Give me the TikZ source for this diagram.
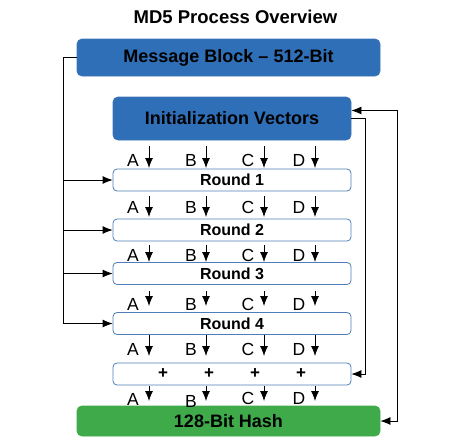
\documentclass[tikz,border=0pt]{standalone}
\usepackage{fontspec}
\setmainfont{Liberation Sans}
\usetikzlibrary{arrows.meta}
\definecolor{boxblue}{RGB}{47,111,184}
\definecolor{boxblueedge}{RGB}{60,115,180}
\definecolor{boxgreen}{RGB}{62,170,74}
\definecolor{roundedge}{RGB}{80,125,185}
\tikzset{
  bigbox/.style={draw=boxblueedge, fill=boxblue, rounded corners=5pt, line width=0.8pt,
    inner sep=0pt, font=\fontsize{18}{20}\selectfont\bfseries},
  greenbox/.style={draw=boxgreen, fill=boxgreen, rounded corners=5pt, line width=0.8pt,
    inner sep=0pt, font=\fontsize{18}{20}\selectfont\bfseries},
  roundbox/.style={draw=roundedge, fill=white, rounded corners=4pt, line width=0.8pt,
    minimum width=238pt, minimum height=22pt, inner sep=0pt,
    font=\fontsize{16}{18}\selectfont\bfseries},
  letter/.style={inner sep=0pt, font=\fontsize{17.5}{19}\selectfont},
  plussign/.style={inner sep=0pt, font=\fontsize{17}{19}\selectfont\bfseries},
  conn/.style={line width=0.8pt, -{Latex[length=10pt,width=8pt]}},
  conn2/.style={line width=0.8pt, {Latex[length=10pt,width=8pt]}-{Latex[length=10pt,width=8pt]}},
  link/.style={line width=0.8pt}
}
\begin{document}
\begin{tikzpicture}[x=1pt,y=-1pt]
\useasboundingbox (0,0) rectangle (470,440);
\node[inner sep=0pt, font=\fontsize{18.5}{20}\selectfont\bfseries] (title) at (235.5,17) {MD5 Process Overview};
\node[bigbox, minimum width=303pt, minimum height=37pt] (mb) at (228.5,57.5) {Message Block – 512-Bit};
\node[bigbox, minimum width=238pt, minimum height=43pt] (iv) at (232,118.5) {Initialization Vectors};
\node[roundbox] (r1) at (232,180) {Round 1};
\node[roundbox] (r2) at (232,230) {Round 2};
\node[roundbox] (r3) at (232,273.5) {Round 3};
\node[roundbox] (r4) at (232,323.5) {Round 4};
\node[roundbox] (plus) at (232,374) {};
\node[greenbox, minimum width=303pt, minimum height=30pt] (hash) at (228.5,421) {128-Bit Hash};

\foreach \x/\n in {163/p1,209/p2,255/p3,301/p4}
  \node[plussign] (\n) at (\x,373.5) {+};

% letters and down arrows
\foreach \r/\ta/\tb/\ly in {1/146/168/160, 2/196/217/207, 3/245/262/255, 4/291/306/304, 5/335/356/349}{
  \foreach \lx/\ax/\L in {133/149/A, 191/206/B, 248/264/C, 299/315/D}{
    \node[letter] (l\r\L) at (\lx,\ly) {\L};
    \coordinate (s\r\L) at (\ax,\ta);
    \coordinate (e\r\L) at (\ax,\tb);
    \draw[conn] (s\r\L) -- (e\r\L);
  }
}
\foreach \lx/\ly/\ax/\L in {133/399/149/A, 191/401/206/B, 248/398/264/C, 299/398/315/D}{
  \node[letter] (l6\L) at (\lx,\ly) {\L};
  \coordinate (s6\L) at (\ax,386);
  \coordinate (e6\L) at (\ax,401);
  \draw[conn] (s6\L) -- (e6\L);
}

% left feed of message block
\coordinate (L) at (63,57.5);
\draw[link] (mb.west) -- (L);
\draw[conn] (L) |- (r4.west);
\foreach \n in {r1,r2,r3}
  \draw[conn] (L |- \n.west) -- (\n.west);

% right connectors
\coordinate (R1) at (365,118.5);
\draw[conn] (iv.east) -- (R1) |- (plus.east);
\coordinate (R2) at (397,110.5);
\draw[conn2] ([yshift=8pt]iv.east) -- (R2) |- (hash.east);
\end{tikzpicture}
\end{document}
